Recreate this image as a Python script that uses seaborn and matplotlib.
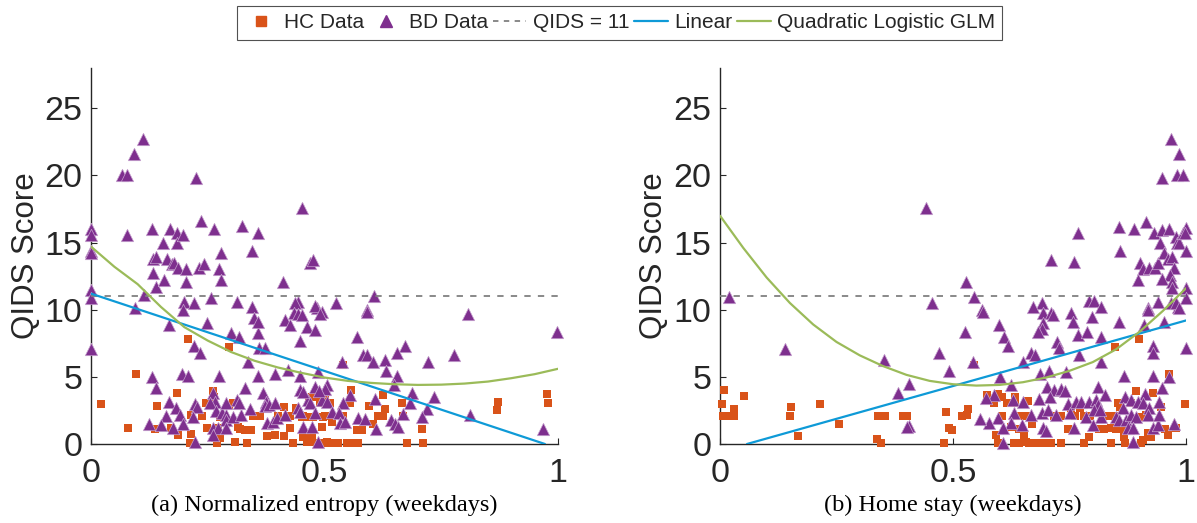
import numpy as np
import pandas as pd
import matplotlib
matplotlib.use("Agg")
import matplotlib.pyplot as plt
from matplotlib.lines import Line2D
import seaborn as sns

# ---------------- data ----------------
left_bd = [
    (0.0,16.0),(0.0,15.6),(0.0,14.4),(0.0,14.2),(0.0,11.5),(0.0,10.9),
    (0.066,20.0),(0.078,20.0),(0.092,21.6),(0.111,22.7),(0.077,15.6),(0.13,16.0),
    (0.133,13.8),(0.14,13.9),(0.133,12.7),(0.139,11.7),(0.155,15.0),(0.162,13.75),
    (0.156,12.25),(0.17,16.0),(0.173,13.4),(0.178,13.5),(0.184,15.7),(0.184,14.95),
    (0.187,13.1),(0.196,15.55),(0.203,13.0),(0.203,12.1),(0.113,11.1),(0.225,19.8),
    (0.236,16.6),(0.232,13.1),(0.242,13.4),(0.264,16.0),(0.256,10.9),(0.2,10.6),
    (0.22,10.5),(0.274,13.0),(0.278,14.2),(0.278,12.2),(0.324,16.2),(0.345,14.4),
    (0.358,15.7),(0.313,10.6),(0.344,10.2),(0.412,12.05),(0.451,17.6),(0.469,13.5),
    (0.475,13.7),(0.444,10.55),(0.483,10.1),(0.606,11.0),(0.524,10.5),(0.59,10.0),
    (0.0,7.1),(0.094,10.1),(0.13,5.0),(0.14,4.15),(0.166,8.85),(0.166,3.1),(0.182,2.7),
    (0.16,2.1),(0.125,1.5),(0.15,1.4),(0.175,1.2),(0.19,2.15),(0.196,1.5),(0.196,10.0),
    (0.194,5.2),(0.208,5.05),(0.221,7.3),(0.233,6.8),(0.249,9.0),(0.223,3.0),(0.228,2.75),
    (0.218,2.0),(0.223,0.15),(0.274,5.05),(0.262,3.8),(0.265,3.1),(0.255,3.05),(0.268,2.45),
    (0.28,2.3),(0.29,2.15),(0.29,1.8),(0.262,1.2),(0.273,1.2),(0.262,0.7),(0.29,1.2),
    (0.305,2.0),(0.289,3.05),(0.312,3.25),(0.316,3.05),(0.321,2.15),(0.3,8.3),(0.316,8.0),
    (0.337,6.1),(0.33,4.2),(0.341,2.6),(0.358,8.25),(0.358,5.05),(0.369,3.8),(0.35,9.4),
    (0.357,9.1),(0.36,7.15),(0.372,7.15),(0.375,3.1),(0.372,2.8),(0.381,2.9),(0.377,1.55),
    (0.39,1.65),(0.398,1.9),(0.394,5.2),(0.394,3.05),(0.415,9.2),(0.426,8.85),(0.415,2.15),
    (0.422,5.5),(0.437,10.5),(0.435,9.75),(0.443,9.7),(0.451,9.6),(0.447,7.65),(0.447,5.1),
    (0.443,2.7),(0.447,4.0),(0.462,8.7),(0.48,10.3),(0.48,8.5),(0.486,5.35),(0.48,4.25),
    (0.454,1.3),(0.473,1.3),(0.486,0.15),(0.465,3.25),(0.494,3.3),(0.494,9.8),(0.505,4.4),
    (0.49,9.7),(0.59,9.8),(0.807,9.7),(0.998,8.35),(0.57,7.95),(0.672,7.3),(0.655,6.75),
    (0.582,6.6),(0.59,6.6),(0.603,6.1),(0.63,6.25),(0.722,6.1),(0.777,6.6),(0.537,6.1),
    (0.632,5.45),(0.655,5.05),(0.649,4.4),(0.687,3.8),(0.734,3.5),(0.608,3.35),(0.683,3.05),
    (0.72,2.6),(0.555,3.65),(0.54,3.05),(0.501,4.1),(0.488,3.95),(0.469,3.05),(0.505,3.1),
    (0.454,3.9),(0.516,2.4),(0.531,2.3),(0.533,1.55),(0.544,1.65),(0.572,1.9),(0.587,1.85),
    (0.61,1.1),(0.642,1.8),(0.651,1.5),(0.657,1.3),(0.668,2.2),(0.709,2.0),(0.812,2.15),
    (0.968,1.1),(0.447,2.4),(0.48,2.3),
]
left_hc = [
    (0.021,3.0),(0.08,1.2),(0.096,5.2),(0.137,1.1),(0.141,2.8),(0.171,1.2),(0.184,3.8),
    (0.187,0.7),(0.208,7.8),(0.214,2.15),(0.214,0.75),(0.212,0.05),(0.237,2.1),(0.248,1.2),
    (0.246,3.05),(0.262,3.95),(0.264,3.5),(0.273,1.2),(0.276,2.0),(0.265,0.45),(0.27,0.05),
    (0.276,0.45),(0.296,7.2),(0.296,2.9),(0.305,3.05),(0.308,0.15),(0.315,1.3),(0.319,1.1),
    (0.33,1.05),(0.343,1.05),(0.334,0.05),(0.347,2.1),(0.362,2.1),(0.377,0.6),(0.394,0.7),
    (0.413,2.75),(0.413,0.6),(0.4,2.1),(0.426,2.1),(0.426,1.2),(0.433,0.05),(0.44,2.7),
    (0.451,2.0),(0.455,0.55),(0.465,2.0),(0.476,2.0),(0.462,0.15),(0.473,0.55),(0.473,3.5),
    (0.49,3.05),(0.494,1.3),(0.483,0.05),(0.494,0.05),(0.505,0.05),(0.501,3.3),(0.497,2.0),
    (0.54,5.9),(0.557,4.0),(0.555,3.05),(0.625,3.65),(0.595,2.8),(0.63,2.6),(0.615,2.1),
    (0.625,2.1),(0.604,1.5),(0.57,1.05),(0.58,1.05),(0.548,0.1),(0.561,0.05),(0.572,0.05),
    (0.666,3.05),(0.668,2.1),(0.709,1.1),(0.677,0.05),(0.711,0.05),(0.872,3.1),(0.869,2.5),
    (0.976,3.7),(0.979,3.05),(0.454,2.1),(0.501,2.1),(0.467,3.4),(0.486,3.5),(0.512,3.05),
    (0.516,1.65),(0.54,2.1),(0.469,0.7),(0.469,0.15),(0.505,0.15),(0.518,0.05),(0.529,0.05),
]
right_bd = [
    (0.02,10.95),(0.441,17.55),(0.454,10.5),(0.527,12.1),(0.546,10.95),(0.563,10.0),
    (0.69,10.5),(0.672,10.2),(0.711,13.7),(0.76,13.55),(0.769,15.7),(0.792,10.65),(0.803,10.65),
    (0.818,10.2),(0.857,16.15),(0.859,14.35),(0.889,16.0),(0.914,16.5),(0.901,13.45),
    (0.908,13.0),(0.921,13.1),(0.934,13.1),(0.94,13.45),(0.897,12.2),(0.931,15.7),(0.949,19.8),
    (0.968,22.7),(0.985,21.6),(0.981,20.0),(0.994,20.0),(0.949,15.9),(0.964,16.0),(0.979,15.4),
    (0.981,14.95),(0.985,14.95),(0.994,15.7),(1.0,16.05),(0.997,15.7),(0.944,15.0),(0.953,14.2),
    (0.961,13.75),(0.97,13.9),(0.974,13.1),(0.966,12.6),(0.949,12.3),(0.97,12.05),(0.97,11.6),
    (1.0,14.35),(1.0,11.6),(1.0,10.9),(0.94,10.55),(0.968,10.5),(0.983,10.2),(0.918,10.1),
    (0.139,7.1),(0.353,6.25),(0.383,3.8),(0.405,4.45),(0.405,1.35),
    (0.565,9.8),(0.525,8.35),(0.471,6.75),(0.492,5.45),(0.543,6.1),(0.599,8.85),(0.61,7.95),
    (0.617,7.3),(0.6,5.0),(0.625,4.4),(0.65,6.1),(0.668,6.75),(0.677,6.6),(0.694,9.75),
    (0.711,9.75),(0.715,9.6),(0.694,9.0),(0.69,8.55),(0.683,8.35),(0.754,9.75),(0.758,9.1),
    (0.769,8.1),(0.788,8.35),(0.799,9.45),(0.724,7.6),(0.728,7.15),(0.771,6.6),(0.818,7.95),
    (0.818,6.1),(0.857,9.1),(0.91,8.85),(0.918,10.0),(0.929,7.3),(0.929,6.75),(0.953,9.1),
    (0.979,10.5),(0.985,10.1),(1.0,7.15),(0.687,5.2),(0.706,5.45),(0.743,5.35),(0.867,5.05),
    (0.929,5.05),(0.964,5.0),(0.702,4.25),(0.717,4.0),(0.732,4.1),(0.741,3.95),(0.811,4.25),
    (0.826,3.65),(0.869,3.5),(0.912,3.7),(0.949,4.15),(0.587,3.65),(0.57,3.4),(0.629,3.3),
    (0.65,3.1),(0.685,3.35),(0.709,3.5),(0.747,3.0),(0.765,3.1),(0.775,3.1),(0.792,3.1),
    (0.807,3.25),(0.811,2.9),(0.865,2.7),(0.882,3.25),(0.897,3.1),(0.908,3.05),(0.942,3.1),
    (0.921,2.7),(0.668,2.15),(0.69,2.3),(0.704,2.5),(0.722,2.15),(0.75,2.3),(0.63,2.3),
    (0.597,1.9),(0.578,1.55),(0.557,1.85),(0.625,1.55),(0.647,1.4),(0.608,1.2),(0.694,1.2),
    (0.7,0.95),(0.76,1.2),(0.786,2.0),(0.801,1.4),(0.818,2.0),(0.803,2.5),(0.816,2.5),
    (0.85,2.0),(0.857,1.8),(0.872,1.8),(0.882,2.15),(0.893,2.0),(0.876,1.2),(0.887,1.2),
    (0.886,0.15),(0.929,1.2),(0.94,1.4),(0.918,2.15),(0.942,2.15),(0.974,1.5),(0.608,0.1),
    (0.402,1.3),
]
right_hc = [
    (0.008,4.0),(0.004,3.0),(0.006,2.1),(0.019,2.1),(0.03,2.1),(0.03,2.6),(0.051,3.55),
    (0.152,2.75),(0.15,2.1),(0.167,0.6),(0.214,3.0),(0.255,1.5),(0.338,2.1),(0.355,2.1),
    (0.336,0.35),(0.345,0.05),(0.392,2.1),(0.402,2.1),(0.48,0.05),(0.484,2.4),(0.492,1.2),
    (0.497,1.05),(0.52,2.1),(0.531,2.15),(0.533,2.6),(0.546,5.9),(0.572,3.65),(0.587,3.05),
    (0.597,3.7),(0.606,3.5),(0.615,3.05),(0.593,0.7),(0.597,0.05),(0.606,2.1),(0.625,1.3),
    (0.632,3.5),(0.632,3.05),(0.636,2.1),(0.653,2.1),(0.664,2.1),(0.63,0.05),(0.642,0.05),
    (0.642,1.1),(0.653,0.7),(0.657,0.15),(0.662,3.2),(0.67,1.5),(0.664,0.05),(0.679,0.05),
    (0.694,0.05),(0.711,0.05),(0.732,0.05),(0.717,2.1),(0.732,2.1),(0.747,1.1),(0.754,2.7),
    (0.773,2.7),(0.762,2.1),(0.782,2.1),(0.794,2.1),(0.782,0.05),(0.792,0.55),(0.814,1.1),
    (0.824,1.1),(0.835,2.1),(0.85,2.1),(0.839,0.05),(0.848,7.2),(0.854,3.05),(0.859,2.75),
    (0.839,1.2),(0.85,1.1),(0.865,1.1),(0.867,0.55),(0.869,0.05),(0.893,3.95),(0.899,7.8),
    (0.882,3.05),(0.904,2.0),(0.914,2.15),(0.904,0.05),(0.908,0.3),(0.918,0.8),(0.925,0.55),
    (0.929,3.8),(0.946,2.75),(0.955,1.1),(0.964,5.2),(0.961,0.7),(0.979,1.2),(0.998,3.0),
]

# fitted curves
curve_x = [0.0, 0.05, 0.1, 0.15, 0.2, 0.25, 0.3, 0.35, 0.4, 0.45, 0.5,
           0.55, 0.6, 0.65, 0.7, 0.75, 0.8, 0.85, 0.9, 0.95, 1.0]
left_glm = [14.7, 13.2, 11.9, 10.2, 8.7, 7.7, 6.85, 6.2, 5.7, 5.3, 4.95,
            4.7, 4.55, 4.45, 4.4, 4.42, 4.5, 4.65, 4.9, 5.2, 5.6]
right_glm = [17.0, 14.6, 12.4, 10.5, 8.9, 7.6, 6.6, 5.8, 5.15, 4.7, 4.45,
             4.35, 4.4, 4.6, 4.95, 5.45, 6.1, 7.05, 8.35, 9.9, 11.6]
left_lin_x = [0.0, 0.972]
left_lin_y = [11.2, 0.0]
right_lin_x = [0.058, 1.0]
right_lin_y = [0.0, 9.2]
qids_thr = 11
thr_x = [0.0, 1.0]

captions = ["(a) Normalized entropy (weekdays)", "(b) Home stay (weekdays)"]
y_ticks = [0, 5, 10, 15, 20, 25]
x_ticks = [0, 0.5, 1]
x_ticklabels = ["0", "0.5", "1"]

# ---------------- style ----------------
C_HC = "#D95319"
C_BD = "#7E2F8E"
C_LIN = "#0E9AD7"
C_GLM = "#9BBB59"
C_THR = "#808080"
C_AX = "#262626"

sns.set_theme(style="white")
plt.rcParams["font.family"] = ["Liberation Sans", "DejaVu Sans"]

fig = plt.figure(figsize=(11.97, 5.23), dpi=100)
W, H = 1197, 523
axes = [fig.add_axes([91 / W, (H - 444) / H, 467 / W, 376 / H]),
        fig.add_axes([720 / W, (H - 444) / H, 466 / W, 376 / H])]

panels = [(left_hc, left_bd, left_glm, left_lin_x, left_lin_y),
          (right_hc, right_bd, right_glm, right_lin_x, right_lin_y)]

for ax, (hc, bd, glm, lx, ly), cap in zip(axes, panels, captions):
    hc_df = pd.DataFrame(hc, columns=["x", "y"])
    bd_df = pd.DataFrame(bd, columns=["x", "y"])
    sns.scatterplot(data=hc_df, x="x", y="y", ax=ax, marker="s", color=C_HC,
                    s=38, linewidth=0, zorder=3)
    sns.scatterplot(data=bd_df, x="x", y="y", ax=ax, marker="^", color=C_BD,
                    s=80, edgecolor="#C7A3CF", linewidth=0.5, zorder=4)
    for coll in ax.collections:
        coll.set_clip_on(False)
    sns.lineplot(x=thr_x, y=[qids_thr, qids_thr], ax=ax, color=C_THR,
                 lw=1.3, dashes=False, zorder=5).lines[-1].set_dashes([3.5, 4])
    sns.lineplot(x=lx, y=ly, ax=ax, color=C_LIN, lw=1.6, zorder=6)
    sns.lineplot(x=curve_x, y=glm, ax=ax, color=C_GLM, lw=1.6, zorder=6)

    ax.set_xlim(0, 1)
    ax.set_ylim(0, 28)
    ax.set_xticks(x_ticks)
    ax.set_xticklabels(x_ticklabels)
    ax.set_yticks(y_ticks)
    for s in ["top", "right"]:
        ax.spines[s].set_visible(False)
    for s in ["left", "bottom"]:
        ax.spines[s].set_color(C_AX)
        ax.spines[s].set_linewidth(1.0)
    ax.tick_params(axis="both", direction="in", length=4, width=0.8,
                   colors=C_AX, labelsize=24.5, labelcolor=C_AX)
    ax.tick_params(axis="x", pad=10)
    ax.tick_params(axis="y", pad=6, left=True)
    ax.tick_params(axis="x", bottom=True)
    ax.set_xlabel("")
    ax.set_ylabel("QIDS Score", fontsize=22.5, color=C_AX, labelpad=3)
    ax.text(0.5, -0.162, cap, transform=ax.transAxes, ha="center", va="center",
            fontsize=17.5, family=["Liberation Serif", "DejaVu Serif"], color="black")
    ax.grid(False)

handles = [
    Line2D([], [], ls="none", marker="s", color=C_HC, markersize=7),
    Line2D([], [], ls="none", marker="^", color=C_BD, markersize=9),
    Line2D([], [], color=C_THR, lw=1.3, dashes=[3, 3]),
    Line2D([], [], color=C_LIN, lw=1.6),
    Line2D([], [], color=C_GLM, lw=1.6),
]
labels = ["HC Data", "BD Data", "QIDS = 11", "Linear", "Quadratic Logistic GLM"]
leg = fig.legend(handles, labels, loc="center", bbox_to_anchor=(619.5 / W, 1 - 23 / H),
                 ncol=5, frameon=True, fancybox=False,
                 handlelength=1.6, handletextpad=0.3, columnspacing=0.25,
                 borderpad=0.35, edgecolor="#262626",
                 prop={"family": ["Liberation Sans"], "size": 15})
leg.get_frame().set_linewidth(0.8)

fig.savefig("out.png", dpi=100)
